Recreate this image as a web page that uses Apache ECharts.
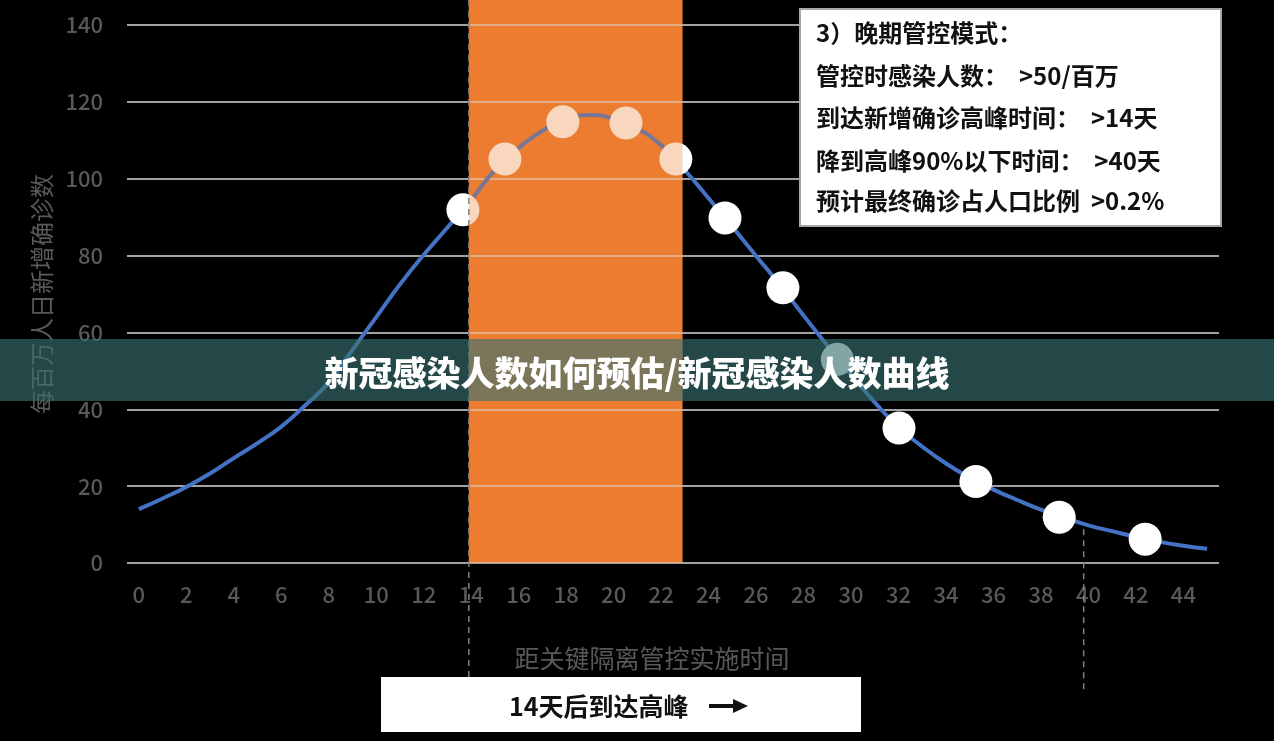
<!DOCTYPE html>
<html>
<head>
<meta charset="utf-8">
<title>新冠感染人数曲线</title>
<script src="https://cdn.jsdelivr.net/npm/echarts@6/dist/echarts.min.js"></script>
<style>
  html, body { margin: 0; padding: 0; background: #000; }
  #main { width: 1274px; height: 741px; }
</style>
</head>
<body>
<div id="main"></div>
<script>
// 曲线：距管控天数 -> 每百万人日新增确诊数
var days = [0, 1, 2, 3, 4, 5, 6, 7, 8, 9, 10, 11, 12, 13, 14, 15, 16, 17, 18, 19, 20, 21, 22,
  23, 24, 25, 26, 27, 28, 29, 30, 31, 32, 33, 34, 35, 36, 37, 38, 39, 40, 41, 42, 43, 44, 45];
var curve = [14, 16.8, 19.8, 23.3, 27.3, 31.2, 35.5, 41, 47, 55.5, 64, 72.5, 80.2, 87.3, 94.5, 102.3, 108, 112.5, 115.3, 116.6, 115.6, 113, 108.7,
  102.2, 94.9, 87.5, 79.9, 72.4, 64.4, 56.6, 49, 41.8, 35.3, 30.3, 25.9, 22.2, 19.1, 16.4, 13.9, 11.8, 9.8, 8.3, 6.8, 5.5, 4.5, 3.7];

// 白色圆点
var dotDays = [13.65, 15.42, 17.86, 20.52, 22.62, 24.69, 27.13, 29.42, 32.02, 35.26, 38.77, 42.39];
var dotValues = [91.9, 105.1, 114.8, 114.5, 105.1, 89.8, 71.6, 53.0, 35.1, 21.2, 11.9, 6.2];

// 高峰期区间与两条虚线
var peakBand = [13.9, 22.9];
var peakLineDay = 13.9;
var dropLineDay = 39.8;

var yMin = 0, yMax = 140, yStep = 20;
var xMin = -0.5, xMax = 45.5;

var titleText = '新冠感染人数如何预估/新冠感染人数曲线';
var infoLines = [
  '3）晚期管控模式：',
  '管控时感染人数：  >50/百万',
  '到达新增确诊高峰时间：  >14天',
  '降到高峰90%以下时间：  >40天',
  '预计最终确诊占人口比例  >0.2%'
];
var arrowNote = '14天后到达高峰';

var FONT = '"Noto Sans CJK SC", "Noto Sans", sans-serif';
var chart = echarts.init(document.getElementById('main'));

var linePts = days.map(function (d, i) { return [d, curve[i]]; });
var dotPts = dotDays.map(function (d, i) { return [d, dotValues[i]]; });

// 高峰期色块：从画布顶端画到 0 轴
function band(color) {
  return function (params, api) {
    var a = api.coord([api.value(0), yMin]);
    var b = api.coord([api.value(1), yMin]);
    return {
      type: 'rect',
      shape: { x: a[0], y: 0, width: b[0] - a[0], height: a[1] },
      style: { fill: color }
    };
  };
}

chart.setOption({
  backgroundColor: '#000',
  animation: false,
  textStyle: { fontFamily: FONT },
  grid: { left: 127, right: 55, top: 25, bottom: 178 },
  xAxis: {
    type: 'value', min: xMin, max: xMax, interval: 0.5,
    name: '距关键隔离管控实施时间',
    nameLocation: 'middle', nameGap: 83,
    nameTextStyle: { color: '#595959', fontSize: 25, padding: [0, 42, 0, 0] },
    axisLine: { show: false }, axisTick: { show: false }, splitLine: { show: false },
    axisLabel: {
      color: '#595959', fontSize: 22, fontWeight: 500, margin: 21,
      formatter: function (v) {
        return (v >= 0 && v <= 44 && v % 2 === 0) ? String(v) : '';
      }
    }
  },
  yAxis: {
    type: 'value', min: yMin, max: yMax, interval: yStep,
    name: '每百万人日新增确诊数',
    nameLocation: 'middle', nameGap: 73,
    nameTextStyle: { color: '#595959', fontSize: 24 },
    axisLine: { show: false }, axisTick: { show: false },
    axisLabel: { color: '#595959', fontSize: 22, fontWeight: 500, margin: 24 },
    splitLine: { lineStyle: { color: '#D9D9D9', width: 1.5 } }
  },
  series: [
    {
      type: 'custom', z: -1, silent: true, clip: false,
      renderItem: band('#ED7D31'),
      data: [peakBand]
    },
    {
      type: 'line', data: linePts, smooth: true, showSymbol: false,
      lineStyle: { color: '#4472C4', width: 4 }, z: 3
    },
    {
      type: 'scatter', data: dotPts, symbolSize: 33,
      itemStyle: { color: '#FFFFFF', opacity: 1 }, z: 4
    },
    {
      type: 'custom', z: 10, silent: true, clip: false,
      renderItem: band('rgba(237,125,49,0.31)'),
      data: [peakBand]
    }
  ]
});

var xPeak = chart.convertToPixel({ xAxisIndex: 0 }, peakLineDay);
var xDrop = chart.convertToPixel({ xAxisIndex: 0 }, dropLineDay);
var yDropTop = chart.convertToPixel({ yAxisIndex: 0 }, curve[40]);
var dash = { stroke: '#7F7F7F', lineWidth: 1.5, lineDash: [6, 5] };

var graphics = [
  { type: 'line', z: 50, shape: { x1: xPeak, y1: 0, x2: xPeak, y2: 692 }, style: dash },
  { type: 'line', z: 50, shape: { x1: xDrop, y1: yDropTop + 4, x2: xDrop, y2: 691 }, style: dash },
  // 标题横幅
  { type: 'rect', z: 100, shape: { x: 0, y: 339, width: 1274, height: 62 },
    style: { fill: 'rgba(57,114,114,0.63)' } },
  { type: 'text', z: 101, x: 637, y: 373,
    style: { text: titleText, fill: '#fff', font: '900 34px ' + FONT, align: 'center', verticalAlign: 'middle' } },
  // 右上说明框
  { type: 'rect', z: 60, shape: { x: 800, y: 9, width: 421, height: 217 },
    style: { fill: '#fff', stroke: '#A6A6A6', lineWidth: 2 } },
  // 底部说明
  { type: 'rect', z: 60, shape: { x: 381, y: 677, width: 480, height: 55 }, style: { fill: '#fff' } },
  { type: 'text', z: 61, x: 509, y: 706,
    style: { text: arrowNote, fill: '#111', font: 'bold 25px ' + FONT, verticalAlign: 'middle' } },
  { type: 'line', z: 61, shape: { x1: 709, y1: 706, x2: 737, y2: 706 }, style: { stroke: '#111', lineWidth: 4 } },
  { type: 'polygon', z: 61, shape: { points: [[733, 699], [748, 706], [733, 713]] }, style: { fill: '#111' } }
];
var lineY = [33, 76, 118, 161, 201];
infoLines.forEach(function (t, i) {
  graphics.push({ type: 'text', z: 61, x: 816, y: lineY[i],
    style: { text: t, fill: '#111', font: 'bold 24px ' + FONT, verticalAlign: 'middle' } });
});
chart.setOption({ graphic: graphics });
</script>
</body>
</html>
